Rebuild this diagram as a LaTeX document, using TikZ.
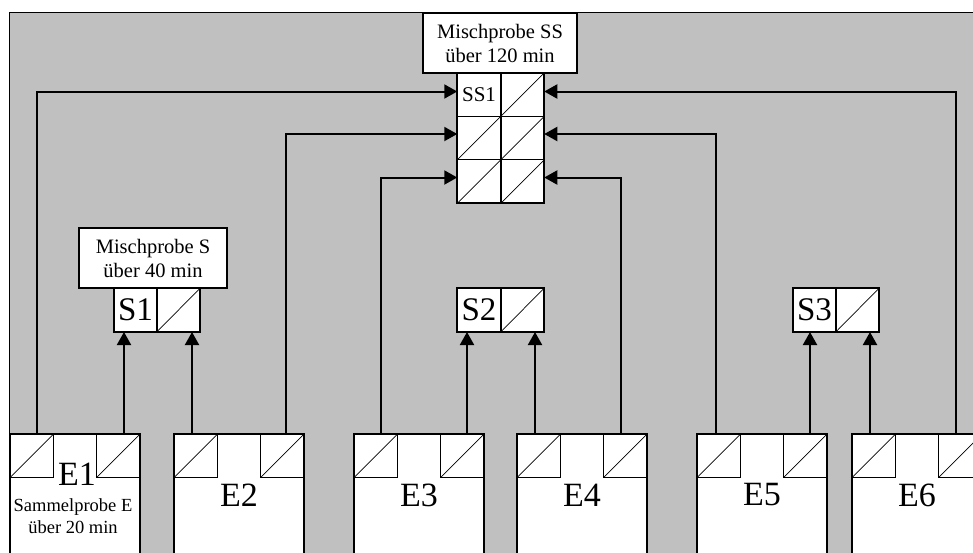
\documentclass[tikz,border=0pt]{standalone}
\usepackage{fontspec}
\setmainfont{Liberation Serif}
\usetikzlibrary{arrows.meta}
\definecolor{bggrey}{RGB}{192,192,192}
\begin{document}
\begin{tikzpicture}[x=1pt,y=-1pt,
  cell/.style={draw=black, line width=1.1pt, fill=white, inner sep=0pt, outer sep=0pt,
               minimum width=43.5pt, minimum height=43.5pt},
  diag/.style={path picture={\draw[line width=0.7pt] (path picture bounding box.south west) -- (path picture bounding box.north east);}},
  ebox/.style={draw=black, line width=2pt, fill=white, inner sep=0pt, outer sep=0pt,
               minimum width=130pt, minimum height=160pt, anchor=north west},
  lbl/.style={draw=black, line width=1.4pt, fill=white, inner sep=0pt, outer sep=0pt,
              align=center, font=\fontsize{20.5}{24}\selectfont},
  big/.style={font=\fontsize{34}{36}\selectfont, inner sep=0pt},
  frame/.style={draw=black, line width=2pt},
  conn/.style={draw=black, line width=2pt, -{Triangle[length=13pt,width=14pt]}},
  wire/.style={draw=black, line width=2pt}
]
\useasboundingbox (0,0) rectangle (973,552);
\clip (0,0) rectangle (973,552);

% background
\fill[bggrey] (9.5,12.5) rectangle (1000,600);
\draw[line width=1.5pt] (1000,12.5) -- (9.5,12.5) -- (9.5,600);

% SS grid
\node[cell] (SSa1) at (479,94.5) {\fontsize{21}{22}\selectfont SS1};
\node[cell,diag] (SSa2) at (522.5,94.5) {};
\node[cell,diag] (SSb1) at (479,138) {};
\node[cell,diag] (SSb2) at (522.5,138) {};
\node[cell,diag] (SSc1) at (479,181.5) {};
\node[cell,diag] (SSc2) at (522.5,181.5) {};
\draw[frame] (SSa1.north west) rectangle (SSc2.south east);
\draw[frame] (SSa1.north east) -- (SSc1.south east);
\node[lbl, minimum width=154pt, minimum height=60pt] (MSS) at (500,43) {Mischprobe SS\\über 120 min};

% S boxes
\node[cell, minimum height=44pt] (S1a) at (135.5,310) {\fontsize{33}{34}\selectfont S1};
\node[cell, minimum height=44pt, diag] (S1b) at (178.5,310) {};
\draw[frame] (S1a.north west) rectangle (S1b.south east);
\draw[frame] (S1a.north east) -- (S1a.south east);
\node[lbl, minimum width=148pt, minimum height=60pt] (MS) at (153,258) {Mischprobe S\\über 40 min};

\node[cell, minimum height=44pt] (S2a) at (479,310) {\fontsize{33}{34}\selectfont S2};
\node[cell, minimum height=44pt, diag] (S2b) at (522.5,310) {};
\draw[frame] (S2a.north west) rectangle (S2b.south east);
\draw[frame] (S2a.north east) -- (S2a.south east);

\node[cell, minimum height=44pt] (S3a) at (814.5,310) {\fontsize{33}{34}\selectfont S3};
\node[cell, minimum height=44pt, diag] (S3b) at (857.5,310) {};
\draw[frame] (S3a.north west) rectangle (S3b.south east);
\draw[frame] (S3a.north east) -- (S3a.south east);

% E boxes
\foreach \n/\x in {1/10,2/174,3/354,4/517,5/697,6/852}{
  \node[ebox] (E\n) at (\x,434) {};
  \node[cell,diag,anchor=north west] (E\n l) at (E\n.north west) {};
  \node[cell,diag,anchor=north east] (E\n r) at (E\n.north east) {};
}
\node[big] (t1) at (77,474) {E1};
\node[align=center, inner sep=0pt, font=\fontsize{18.5}{22}\selectfont] (t1s) at (73,516) {Sammelprobe E\\über 20 min};
\node[big] (t2) at (239,495) {E2};
\node[big] (t3) at (419,495) {E3};
\node[big] (t4) at (582,495) {E4};
\node[big] (t5) at (762,495) {E5};
\node[big] (t6) at (917,495) {E6};

% connector start points
\coordinate (e1a) at (37,434);  \coordinate (e1b) at (124,434);
\coordinate (e2a) at (192,434); \coordinate (e2b) at (286,434);
\coordinate (e3a) at (381,434); \coordinate (e3b) at (467,434);
\coordinate (e4a) at (535,434); \coordinate (e4b) at (621,434);
\coordinate (e5a) at (716,434); \coordinate (e5b) at (810,434);
\coordinate (e6a) at (870,434); \coordinate (e6b) at (956,434);

% connectors to S boxes
\draw[conn] (e1b) -- (e1b |- S1a.south);
\draw[conn] (e2a) -- (e2a |- S1b.south);
\draw[conn] (e3b) -- (e3b |- S2a.south);
\draw[conn] (e4a) -- (e4a |- S2b.south);
\draw[conn] (e5b) -- (e5b |- S3a.south);
\draw[conn] (e6a) -- (e6a |- S3b.south);

% connectors to SS grid
\draw[conn] (e1a) |- ([yshift=3pt]SSa1.west);
\draw[conn] (e2b) |- ([yshift=4pt]SSb1.west);
\draw[conn] (e3a) |- ([yshift=4pt]SSc1.west);
\draw[conn] (e6b) |- ([yshift=3pt]SSa2.east);
\draw[conn] (e5a) |- ([yshift=4pt]SSb2.east);
\draw[conn] (e4b) |- ([yshift=4pt]SSc2.east);
\end{tikzpicture}
\end{document}
